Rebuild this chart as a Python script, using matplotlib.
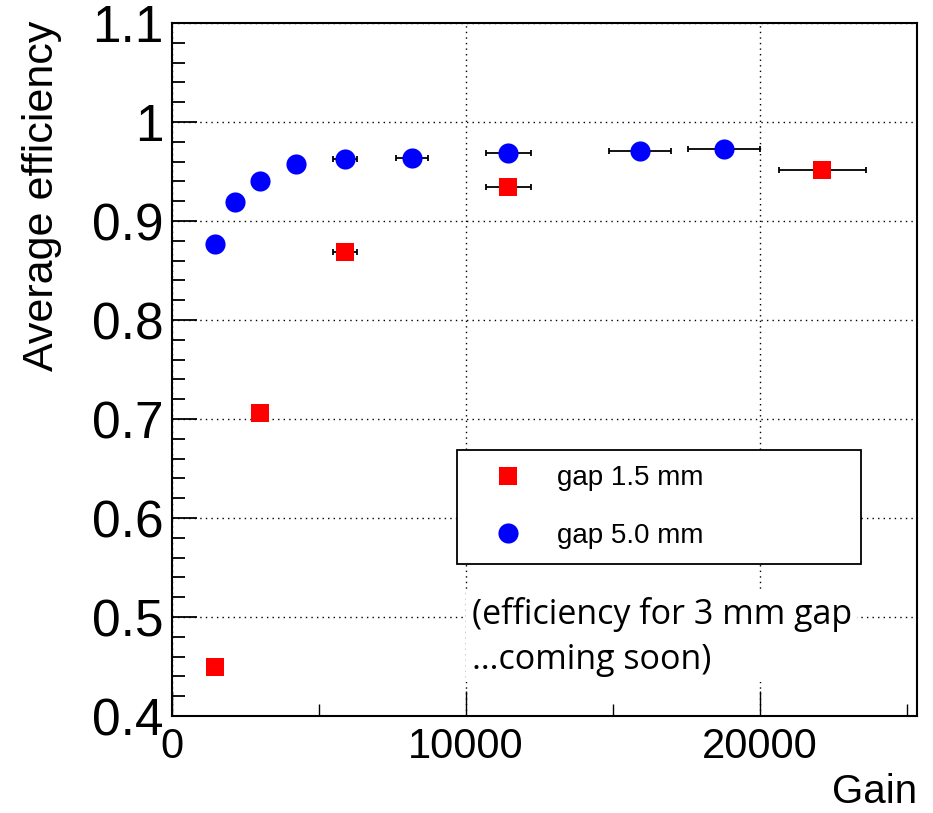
import matplotlib
matplotlib.use("Agg")
import matplotlib.pyplot as plt
from matplotlib.ticker import MultipleLocator

plt.rcParams['font.family'] = ['Liberation Sans', 'DejaVu Sans']

# gap 1.5 mm (red squares)
gain_15 = [1460, 2990, 5880, 11430, 22110]
gain_15_err = [100, 200, 410, 765, 1480]
eff_15 = [0.449, 0.706, 0.869, 0.934, 0.952]

# gap 5.0 mm (blue circles)
gain_50 = [1460, 2140, 2990, 4220, 5880, 8160, 11430, 15920, 18780]
gain_50_err = [100, 140, 200, 280, 410, 545, 765, 1055, 1225]
eff_50 = [0.877, 0.919, 0.940, 0.958, 0.963, 0.964, 0.969, 0.971, 0.973]

ytick_vals = [0.4, 0.5, 0.6, 0.7, 0.8, 0.9, 1.0, 1.1]
ytick_labels = ['0.4', '0.5', '0.6', '0.7', '0.8', '0.9', '1', '1.1']
xtick_vals = [0, 10000, 20000]
xtick_labels = ['0', '10000', '20000']

fig = plt.figure(figsize=(9.33, 8.13), dpi=100)
ax = fig.add_axes([0.1844, 0.1193, 0.7985, 0.8524])

# error bars first, markers on top
ax.errorbar(gain_15, eff_15, xerr=gain_15_err, fmt='none', ecolor='black',
            elinewidth=1.3, capsize=2.5, capthick=1.3, zorder=3)
ax.errorbar(gain_50, eff_50, xerr=gain_50_err, fmt='none', ecolor='black',
            elinewidth=1.3, capsize=2.5, capthick=1.3, zorder=3)
ax.plot(gain_15, eff_15, 's', color='#ff0000', markersize=12.5, markeredgewidth=0,
        label='gap 1.5 mm', zorder=4)
ax.plot(gain_50, eff_50, 'o', color='#0000ff', markersize=14.5, markeredgewidth=0,
        label='gap 5.0 mm', zorder=4)

ax.set_xlim(0, 25340)
ax.set_ylim(0.4, 1.1)

ax.set_yticks(ytick_vals)
ax.set_yticklabels(ytick_labels)
ax.set_xticks(xtick_vals)
ax.set_xticklabels(xtick_labels)
ax.yaxis.set_minor_locator(MultipleLocator(0.02))
ax.xaxis.set_minor_locator(MultipleLocator(5000))

ax.tick_params(axis='y', which='major', direction='in', length=18, width=1.3,
               labelsize=37, pad=6)
ax.tick_params(axis='y', which='minor', direction='in', length=9, width=1.3)
ax.tick_params(axis='x', which='major', direction='in', length=18, width=1.0,
               labelsize=30, pad=8)
ax.tick_params(axis='x', which='minor', direction='in', length=9, width=1.0)
ax.tick_params(top=False, right=False, which='both')

for s in ax.spines.values():
    s.set_linewidth(1.5)

ax.grid(True, which='major', linestyle=(0, (1, 3)), color='black', linewidth=1.0)

ax.set_xlabel('Gain', fontsize=29, loc='right')
ax.xaxis.set_label_coords(1.0, -0.1255)
ax.xaxis.label.set_va('baseline')
ax.set_ylabel('Average efficiency', fontsize=31, loc='top')
ax.yaxis.set_label_coords(-0.148, 1.004)

leg = ax.legend(loc='upper left', bbox_to_anchor=(0.3826, 0.3838, 0.5423, 0.0),
                mode='expand', borderaxespad=0, fontsize=20, frameon=True,
                fancybox=False, framealpha=1, edgecolor='black',
                handlelength=2.6, handletextpad=0.45, labelspacing=1.13,
                borderpad=0.55)
leg.get_frame().set_linewidth(1.3)
leg.set_zorder(5)

# pasted note, sits on a white patch over the grid
ax.text(10200, 0.480, '(efficiency for 3 mm gap\n\u2026coming soon)', fontsize=24.5,
        family=['Open Sans', 'DejaVu Sans'], va='center', ha='left', linespacing=1.42,
        zorder=6, bbox=dict(facecolor='white', edgecolor='none', pad=4))

fig.savefig('out.png', dpi=100)
